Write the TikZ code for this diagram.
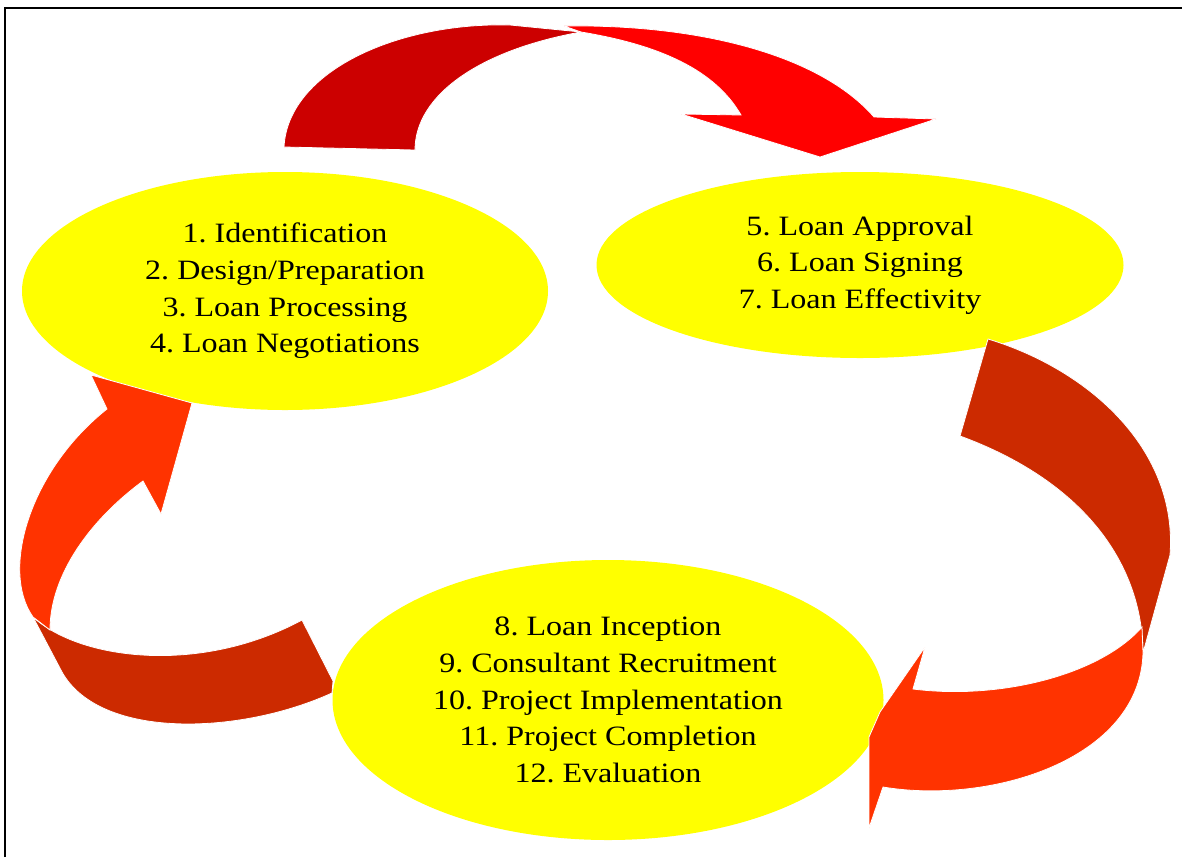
\documentclass[tikz,border=0pt]{standalone}
\usepackage{fontspec}
\setmainfont{Liberation Serif}
\newfontfamily\stagefont[FakeStretch=1.145]{Liberation Serif}
\usetikzlibrary{shapes.geometric}
\definecolor{stagefill}{HTML}{FFFF00}
\definecolor{topdark}{HTML}{CC0000}
\definecolor{topbright}{HTML}{FF0000}
\definecolor{sidedark}{HTML}{CC2A00}
\definecolor{sidebright}{HTML}{FF3300}
\frenchspacing
\tikzset{
  stage/.style={ellipse, fill=stagefill, inner sep=0pt, align=center,
    font=\stagefont\fontsize{28}{36.6}\selectfont},
  ribbon/.style={draw=white, line width=0.8pt, line join=miter}
}
\begin{document}
\begin{tikzpicture}[x=1pt,y=-1pt]
\useasboundingbox (0,0) rectangle (1182,857);
\draw[line width=2pt] (5,857) -- (5,7.5) -- (1182,7.5);

\node[stage, minimum width=526pt, minimum height=238pt] (e1) at (285,291)
  {1. Identification\\2. Design/Preparation\\3. Loan Processing\\4. Loan Negotiations};
\node[stage, minimum width=527pt, minimum height=186pt] (e2) at (860,265)
  {5. Loan Approval\\6. Loan Signing\\7. Loan Effectivity};
\node[stage, minimum width=551pt, minimum height=280pt] (e3) at (608,700)
  {8. Loan Inception\\9. Consultant Recruitment\\10. Project Implementation\\11. Project Completion\\12. Evaluation};

% top arrow
\fill[topdark, ribbon] (284,147) .. controls (288,70) and (400,22) .. (510,25)
  -- (581,32) .. controls (480,50) and (415,95) .. (415,150) -- cycle;
\fill[topbright, ribbon] (564,26) .. controls (700,24) and (820,55) .. (874,117)
  -- (936,119) -- (820,157) -- (681,114) -- (741,115)
  .. controls (715,70) and (660,45) .. (581,32) -- cycle;

% right arrow
\fill[sidedark, ribbon] (988,339) .. controls (1090,370) and (1178,450) .. (1170,555)
  -- (1143,653) .. controls (1142,560) and (1080,480) .. (960,436) -- cycle;
\fill[sidebright, ribbon] (1142,627) -- (1143,653)
  .. controls (1140,760) and (990,805) .. (883,787)
  -- (869,828) -- (869,737) -- (880,712) -- (925,647) -- (913,689)
  .. controls (1000,700) and (1100,675) .. (1142,627) -- cycle;

% left arrow
\fill[sidedark, ribbon] (33,617) .. controls (80,660) and (200,675) .. (302,620)
  -- (333,681) -- (332,693) .. controls (240,735) and (100,740) .. (62,672) -- cycle;
\fill[sidebright, ribbon] (33,617) -- (50,630)
  .. controls (50,575) and (90,520) .. (143,481)
  -- (161,514) -- (192,403) -- (91,375) -- (107,409)
  .. controls (30,470) and (0,570) .. (33,617) -- cycle;
\end{tikzpicture}
\end{document}
